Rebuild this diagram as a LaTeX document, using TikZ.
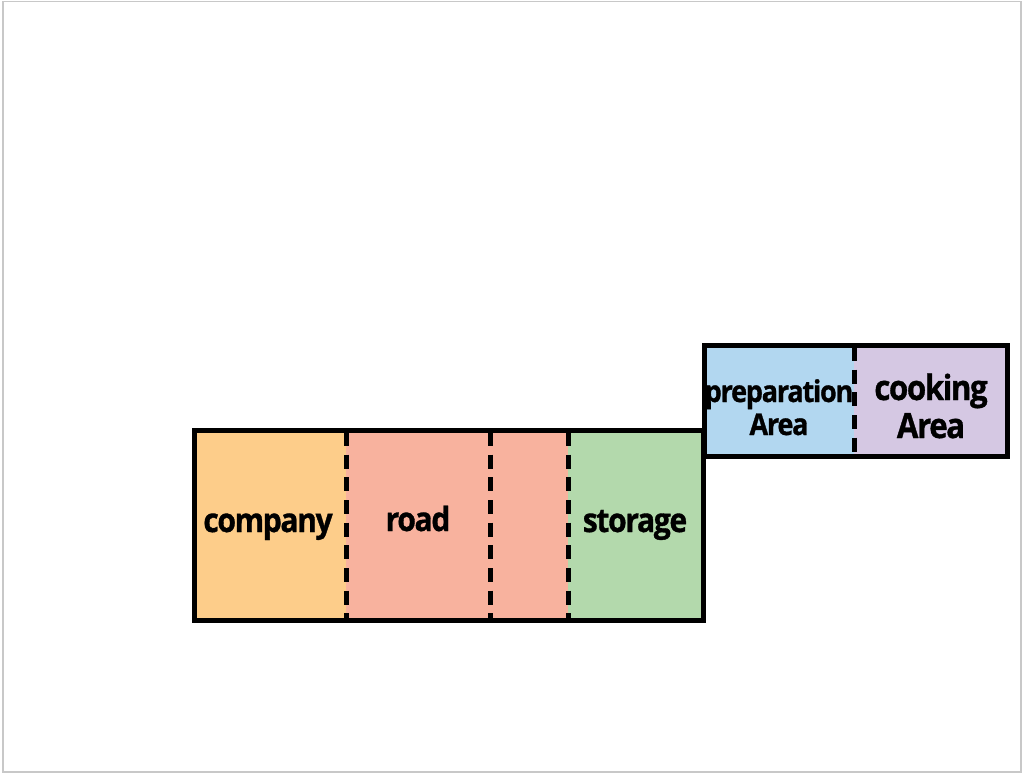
\documentclass[tikz,border=0pt]{standalone}
\usepackage{fontspec}
\setmainfont{Open Sans}[BoldFeatures={FakeBold=1,FakeStretch=0.9,LetterSpace=-4}]
\definecolor{cOrange}{RGB}{253,205,138}
\definecolor{cSalmon}{RGB}{248,178,158}
\definecolor{cGreen}{RGB}{179,217,172}
\definecolor{cBlue}{RGB}{178,215,240}
\definecolor{cLilac}{RGB}{213,200,227}
\definecolor{cFrame}{RGB}{200,200,200}
\begin{document}
\begin{tikzpicture}[x=0.75pt,y=-0.75pt,
  label/.style={font=\bfseries\fontsize{25}{28.5}\selectfont,align=center,inner sep=0pt,anchor=base},
  cooklabel/.style={font=\bfseries\fontsize{26}{28.5}\selectfont,align=center,inner sep=0pt,anchor=base},
  smalllabel/.style={font=\bfseries\fontsize{22.5}{24.75}\selectfont,align=center,inner sep=0pt,anchor=base},
  outline/.style={draw=black,line width=3.75pt,fill=none},
  divider/.style={draw=black,line width=3.75pt,dash pattern=on 10.5pt off 6.5pt}]
\useasboundingbox (0,0) rectangle (1024,776);
\draw[cFrame,line width=1.2pt] (3,1.5) rectangle (1021,772);
% lower block
\fill[cOrange] (194,430) rectangle (346,620);
\fill[cSalmon] (346,430) rectangle (568,620);
\fill[cGreen] (568,430) rectangle (703,620);
% upper block
\fill[cBlue] (704,345) rectangle (854,456);
\fill[cLilac] (854,345) rectangle (1007,456);
\draw[outline] (194,430) rectangle (703,620);
\draw[outline] (704,345) rectangle (1007,456);
\coordinate (d1t) at (346,432); \coordinate (d1b) at (346,618);
\coordinate (d2t) at (490,432); \coordinate (d2b) at (490,618);
\coordinate (d3t) at (568,432); \coordinate (d3b) at (568,618);
\coordinate (d4t) at (854,347); \coordinate (d4b) at (854,454);
\draw[divider] (d1t) -- (d1b);
\draw[divider] (d2t) -- (d2b);
\draw[divider] (d3t) -- (d3b);
\draw[divider] (d4t) -- (d4b);
\node[label] (company) at (268,532) {company};
\node[label] (road) at (418,531) {road};
\node[label] (storage) at (635,532) {storage};
\node[smalllabel] (prep) at (779,435) {preparation\\Area};
\node[cooklabel] (cook) at (931,438) {cooking\\Area};
\end{tikzpicture}
\end{document}
